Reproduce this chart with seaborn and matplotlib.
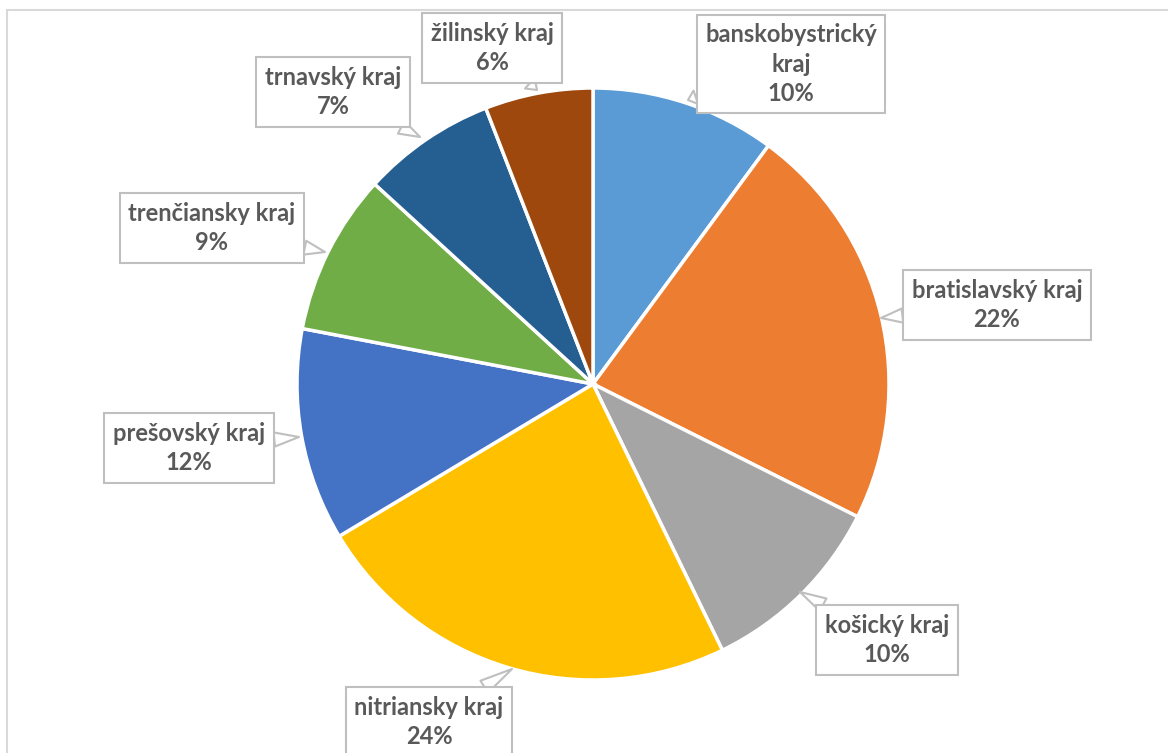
import matplotlib
matplotlib.use("Agg")
import matplotlib.pyplot as plt
import seaborn as sns
from matplotlib.patches import Rectangle

# ---- data ----
regions = ["banskobystrický\nkraj", "bratislavský kraj", "košický kraj", "nitriansky kraj",
           "prešovský kraj", "trenčiansky kraj", "trnavský kraj", "žilinský kraj"]
shares = [10.1, 22.3, 10.4, 23.6, 11.6, 8.8, 7.3, 5.9]
colors = ["#5B9BD5", "#ED7D31", "#A5A5A5", "#FFC000", "#4472C4", "#70AD47", "#255E91", "#9E480E"]

# ---- layout (pixel positions, y from top) ----
W, H = 1168, 753
center_px = (593, 384)
radius_px = 296
label_center_px = [(791, 64), (997, 305), (887, 640), (429, 722),
                   (189, 448), (212, 228), (333, 92), (492, 48)]
label_tip_px = [(688, 100), (881, 318), (800, 592), (512, 669),
                (299, 437), (325, 252), (420, 137), (537, 90)]

sns.set_theme(style="white")
plt.rcParams['font.family'] = ['Lato', 'DejaVu Sans']

fig = plt.figure(figsize=(W / 100, H / 100), dpi=100)
ax = fig.add_axes([0, 0, 1, 1])

def P(p):
    return (p[0], H - p[1])

wedges, _ = ax.pie(shares, colors=colors, startangle=90, counterclock=False,
                   center=P(center_px), radius=radius_px,
                   wedgeprops=dict(edgecolor="white", linewidth=2.5))
ax.set_xlim(0, W)
ax.set_ylim(0, H)
ax.set_aspect("equal")
ax.axis("off")

total = sum(shares)
for name, v, c, t in zip(regions, shares, label_center_px, label_tip_px):
    txt = f"{name}\n{v / total * 100:.0f}%"
    ax.annotate(txt, xy=P(t), xytext=P(c), ha="center", va="center",
                fontsize=17, fontweight="bold", color="#595959", linespacing=1.32,
                bbox=dict(boxstyle="square,pad=0.36", fc="white", ec="#BFBFBF", lw=1.5),
                arrowprops=dict(arrowstyle="wedge,tail_width=0.6", fc="white",
                                ec="#BFBFBF", lw=1.5, shrinkA=0, shrinkB=0),
                zorder=5)

# chart-area border
fig.patches.append(Rectangle((7 / W, -0.1), 1.2, (H - 10) / H + 0.1,
                             transform=fig.transFigure, fill=False,
                             ec="#D9D9D9", lw=1.5, zorder=0))

fig.savefig("out.png", dpi=100)
